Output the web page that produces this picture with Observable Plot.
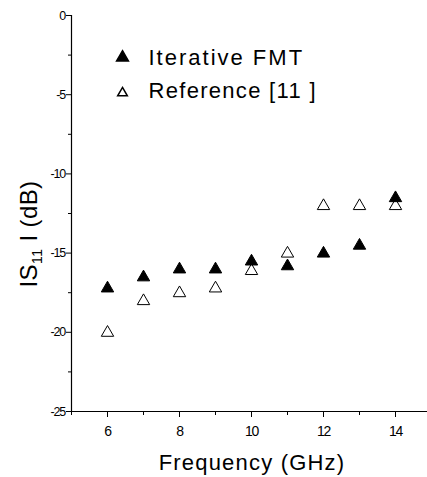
<!DOCTYPE html>
<html>
<head>
<meta charset="utf-8">
<script src="https://cdn.jsdelivr.net/npm/d3@7"></script>
<script src="https://cdn.jsdelivr.net/npm/@observablehq/plot@0.6"></script>
<style>
  html, body { margin: 0; padding: 0; background: #fff; overflow: hidden; }
  #chart svg { font-family: "Liberation Sans", Arial, sans-serif; color: #000; }
  g[aria-label="x-axis tick label"] text { letter-spacing: -1.4px; }
  g[aria-label="y-axis tick label"] text { letter-spacing: -1.2px; }
</style>
</head>
<body>
<div id="chart"></div>
<script>
// ---- data ----
const frequency = [6, 7, 8, 9, 10, 11, 12, 13, 14];
const iterativeFMT = [-17.1, -16.4, -15.9, -15.9, -15.4, -15.7, -14.9, -14.4, -11.4];
const reference11 = [-19.9, -17.9, -17.4, -17.1, -16.0, -14.9, -11.9, -11.9, -11.9];
const seriesNames = ["Iterative FMT", "Reference [11 ]"];
const xTicks = [6, 8, 10, 12, 14];
const xMinorTicks = [5, 7, 9, 11, 13, 15];
const yTicks = [0, -5, -10, -15, -20, -25];
const yMinorTicks = [-2.5, -7.5, -12.5, -17.5, -22.5];
const xDomain = [5, 15];
const yDomain = [-25, 0];
const xTitle = "Frequency (GHz)";

const fmtData = frequency.map((f, i) => ({x: f, y: iterativeFMT[i]}));
const refData = frequency.map((f, i) => ({x: f, y: reference11[i]}));

const W = 427, H = 477, mL = 71, mT = 15, mB = 66;

const plot = Plot.plot({
  width: W,
  height: H,
  marginLeft: mL,
  marginTop: mT,
  marginBottom: mB,
  marginRight: 0,
  style: {background: "#fff", color: "#000", fontFamily: "Liberation Sans, Arial, sans-serif"},
  x: {domain: xDomain, range: [mL, mL + 360]},
  y: {domain: yDomain, range: [H - mB, mT]},
  marks: [
    Plot.ruleY([yDomain[0]], {x1: xDomain[0], x2: xDomain[1], stroke: "#000", strokeWidth: 1.2}),
    Plot.ruleX([xDomain[0]], {y1: yDomain[0], y2: yDomain[1], stroke: "#000", strokeWidth: 1.2}),
    Plot.axisX({ticks: xTicks, tickSize: 6, tickPadding: 9, fontSize: 14, label: null, tickFormat: d => String(d)}),
    Plot.axisX({ticks: xMinorTicks, tickSize: 4, text: null, label: null}),
    Plot.axisY({ticks: yTicks, tickSize: 5, tickPadding: 1.5, fontSize: 12.5, label: null, tickFormat: d => d < 0 ? "-" + Math.abs(d) : String(d)}),
    Plot.axisY({ticks: yMinorTicks, tickSize: 3, text: null, label: null}),
    Plot.dot(refData, {x: "x", y: "y", symbol: "triangle", r: 4.6, dy: 2, fill: "#fff", stroke: "#000", strokeWidth: 1}),
    Plot.dot(fmtData, {x: "x", y: "y", symbol: "triangle", r: 4.6, dy: 2, fill: "#000", stroke: "#000", strokeWidth: 1}),
    // legend
    Plot.dot([seriesNames[0]], {frameAnchor: "top-left", dx: 51, dy: 42, symbol: "triangle", r: 4.4, fill: "#000", stroke: "#000"}),
    Plot.dot([seriesNames[1]], {frameAnchor: "top-left", dx: 51, dy: 77.5, symbol: "triangle", r: 3.6, fill: "#fff", stroke: "#000"}),
    Plot.text([seriesNames[0]], {text: d => d, frameAnchor: "top-left", lineAnchor: "middle", dx: 77, dy: 42.5, textAnchor: "start", fontSize: 22, fill: "#000"}),
    Plot.text([seriesNames[1]], {text: d => d, frameAnchor: "top-left", lineAnchor: "middle", dx: 77, dy: 75.5, textAnchor: "start", fontSize: 22, fill: "#000"})
  ]
});

document.getElementById("chart").appendChild(plot);
const svg = d3.select(plot);
svg.selectAll('g[aria-label="text"] text').attr("letter-spacing", (d, i) => i === 0 ? "2px" : "1.3px");

// x title
svg.append("text")
  .attr("x", mL + 181)
  .attr("y", 470)
  .attr("text-anchor", "middle")
  .attr("font-size", 22)
  .attr("letter-spacing", "1.2px")
  .attr("fill", "#000")
  .text(xTitle);

// y title with subscript
const yt = svg.append("text")
  .attr("transform", "translate(37,234) rotate(-90)")
  .attr("text-anchor", "middle")
  .attr("font-size", 24)
  .attr("letter-spacing", "0.4px")
  .attr("fill", "#000");
yt.append("tspan").text("IS");
yt.append("tspan").attr("font-size", 14).attr("dy", 5).text("11");
yt.append("tspan").attr("dy", -5).text(" I (dB)");
</script>
</body>
</html>
